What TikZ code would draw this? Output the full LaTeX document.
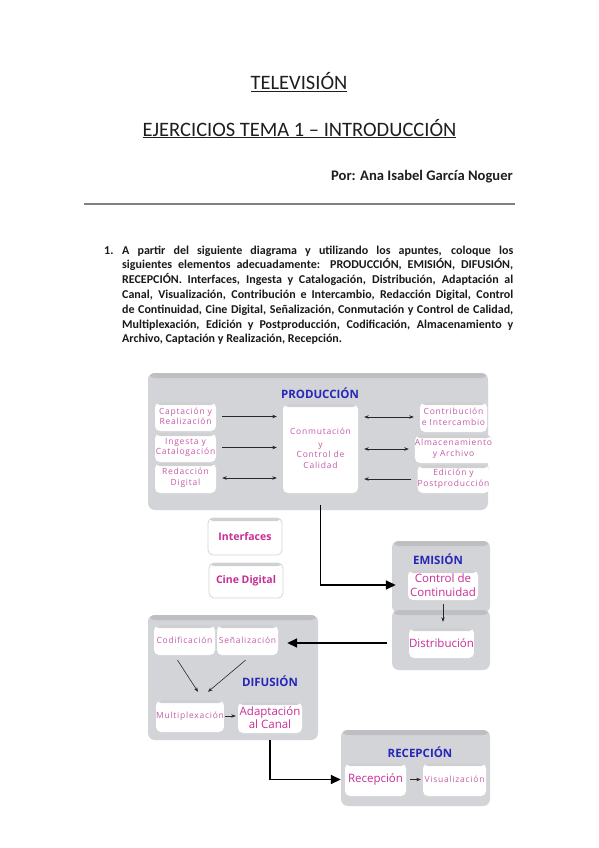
\documentclass[tikz,border=0pt]{standalone}
\usepackage{fontspec}
\setmainfont{Carlito}
\newfontfamily\dia{Open Sans}
\newfontfamily\diasmall[LetterSpace=9]{Open Sans}
\usetikzlibrary{arrows.meta}
\definecolor{panelgray}{RGB}{211,212,215}
\definecolor{paneltop}{RGB}{190,191,195}
\definecolor{wtop}{RGB}{208,208,211}
\definecolor{mag}{RGB}{200,45,150}
\definecolor{lmag}{RGB}{196,90,168}
\definecolor{tblue}{RGB}{38,38,185}
\definecolor{rulegray}{RGB}{128,128,128}
\tikzset{
  panel/.style={rounded corners=7pt, fill=panelgray, inner sep=0pt,
    path picture={\fill[paneltop] (path picture bounding box.north west) rectangle ([yshift=-5pt]path picture bounding box.north east);}},
  wbox/.style={rounded corners=5pt, fill=white, inner sep=0pt, align=center,
    path picture={\fill[wtop] (path picture bounding box.north west) rectangle ([yshift=-3pt]path picture bounding box.north east);}},
  obox/.style={wbox, draw={rgb,255:red,215;green,215;blue,218}, line width=0.8pt},
  ttl/.style={font=\dia\bfseries\fontsize{11.5}{13}\selectfont, text=tblue, inner sep=0pt},
  sml/.style={font=\diasmall\fontsize{8.5}{10.5}\selectfont, text=lmag},
  big/.style={font=\dia\fontsize{11.5}{13.5}\selectfont, text=mag},
  bold/.style={font=\dia\bfseries\fontsize{10.5}{12}\selectfont, text=mag},
  arr/.style={draw={rgb,255:red,40;green,40;blue,40}, line width=0.6pt, -{Stealth[length=4.5pt,width=3.5pt]}, shorten <=6pt, shorten >=6pt},
  darr/.style={arr, {Stealth[length=4.5pt,width=3.5pt]}-{Stealth[length=4.5pt,width=3.5pt]}},
  bigarr/.style={draw=black, line width=1.6pt, -{Triangle[length=10pt,width=9pt]}},
  head/.style={font=\fontsize{20.5}{24}\selectfont, text={rgb,255:red,30;green,30;blue,30}, inner sep=0pt},
  para/.style={font=\bfseries\fontsize{12}{14.6}\selectfont, text={rgb,255:red,25;green,25;blue,25}, inner sep=0pt, anchor=base west}
}
\begin{document}
\begin{tikzpicture}[x=1pt,y=-1pt]
\useasboundingbox[fill=white] (0,0) rectangle (599,848);
% header
\node[head, anchor=base] (title) at (299,90) {\underline{TELEVISIÓN}};
\node[head, anchor=base] (sub) at (299.5,136) {\underline{EJERCICIOS TEMA 1 – INTRODUCCIÓN}};
\node[head, font=\bfseries\fontsize{14.6}{16}\selectfont, anchor=base east] (author) at (513,180) {Por: Ana Isabel García Noguer};
\coordinate (rl) at (84,204);
\coordinate (rr) at (515,204);
\draw[rulegray, line width=1.5pt] (rl) -- (rr);
% paragraph
\node[para] (num) at (104,254) {1.};
\node[para] (l1) at (122,254) {\makebox[391pt][s]{A partir del siguiente diagrama y utilizando los apuntes, coloque los}};
\node[para] (l2) at (122,268.8) {\makebox[391pt][s]{siguientes elementos adecuadamente: PRODUCCIÓN, EMISIÓN, DIFUSIÓN,}};
\node[para] (l3) at (122,283.6) {\makebox[391pt][s]{RECEPCIÓN. Interfaces, Ingesta y Catalogación, Distribución, Adaptación al}};
\node[para] (l4) at (122,298.4) {\makebox[391pt][s]{Canal, Visualización, Contribución e Intercambio, Redacción Digital, Control}};
\node[para] (l5) at (122,313.2) {\makebox[391pt][s]{de Continuidad, Cine Digital, Señalización, Conmutación y Control de Calidad,}};
\node[para] (l6) at (122,328) {\makebox[391pt][s]{Multiplexación, Edición y Postproducción, Codificación, Almacenamiento y}};
\node[para] (l7) at (122,342.8) {Archivo, Captación y Realización, Recepción.};
% PRODUCCION
\node[panel, minimum width=340pt, minimum height=137pt] (prod) at (318,441.5) {};
\node[ttl] (tprod) at (320,393) {PRODUCCIÓN};
\node[wbox, sml, minimum width=61pt, minimum height=29pt] (capt) at (185.5,416.5) {Captación y\\Realización};
\node[wbox, sml, minimum width=61pt, minimum height=29pt] (ing) at (185.5,447.5) {Ingesta y\\Catalogación};
\node[wbox, sml, minimum width=61pt, minimum height=30pt] (red) at (185.5,478) {Redacción\\Digital};
\node[wbox, sml, minimum width=75pt, minimum height=89pt] (conm) at (320.5,448.5) {Conmutación\\[2pt]y\\Control de\\Calidad};
\node[wbox, sml, minimum width=67pt, minimum height=30pt] (contr) at (453.5,417) {Contribución\\e Intercambio};
\node[wbox, sml, minimum width=67pt, minimum height=28pt] (alm) at (453.5,449) {Almacenamiento\\y Archivo};
\node[wbox, sml, minimum width=67pt, minimum height=28pt] (edic) at (453.5,479) {Edición y\\Postproducción};
\draw[arr] (capt.east) -- (capt.east -| conm.west);
\draw[arr] (ing.east) -- (ing.east -| conm.west);
\draw[darr] (red.east) -- (red.east -| conm.west);
\draw[darr] (conm.east |- contr.west) -- (contr.west);
\draw[darr] (conm.east |- alm.west) -- (alm.west);
\draw[arr] (edic.west) -- (edic.west -| conm.east);
% loose boxes
\node[obox, bold, minimum width=74pt, minimum height=37pt] (intf) at (245,536.5) {Interfaces};
\node[obox, bold, minimum width=74pt, minimum height=35pt] (cine) at (246,580.5) {Cine Digital};
% EMISION
\node[panel, minimum width=98pt, minimum height=72pt] (emis) at (441,577) {};
\node[panel, minimum width=98pt, minimum height=60pt] (emis2) at (441,640) {};
\node[ttl] (temis) at (438,559) {EMISIÓN};
\node[wbox, big, minimum width=70pt, minimum height=30pt] (ctrl) at (443,585) {Control de\\Continuidad};
\node[wbox, big, minimum width=64pt, minimum height=30pt] (dist) at (441.5,643) {Distribución};
\draw[arr, shorten <=4pt] (ctrl.south) -- (ctrl.south |- dist.north);
\draw[bigarr, shorten <=12pt, shorten >=-4pt] (conm.south) |- (ctrl.west -| emis.west);
% DIFUSION
\node[panel, minimum width=170pt, minimum height=125pt] (difu) at (233,677.5) {};
\node[wbox, sml, minimum width=61pt, minimum height=30pt] (codif) at (184.5,640) {Codificación};
\node[wbox, sml, minimum width=61pt, minimum height=30pt] (senal) at (247.5,640) {Señalización};
\node[ttl] (tdifu) at (270,681) {DIFUSIÓN};
\node[wbox, sml, minimum width=64pt, minimum height=32pt] (multi) at (190,716) {Multiplexación};
\node[wbox, big, minimum width=64pt, minimum height=31pt] (adapt) at (270,717.5) {Adaptación\\al Canal};
\draw[bigarr, shorten <=5pt, shorten >=9pt] (dist.west -| emis2.west) -- (dist.west -| senal.east);
\draw[arr, shorten <=0pt, shorten >=0pt] ([xshift=-7pt,yshift=-5pt]codif.south) -- ([xshift=8pt,yshift=8pt]multi.north);
\draw[arr, shorten <=0pt, shorten >=0pt] ([xshift=-2pt,yshift=-5pt]senal.south) -- ([xshift=18pt,yshift=8pt]multi.north);
\draw[arr, shorten <=1pt, shorten >=2pt] (multi.east) -- (multi.east -| adapt.west);
% RECEPCION
\node[panel, minimum width=149pt, minimum height=76pt] (recp) at (415.5,768) {};
\node[ttl] (trec) at (420,752) {RECEPCIÓN};
\node[wbox, big, minimum width=61pt, minimum height=33pt] (recep) at (375.5,779.5) {Recepción};
\node[wbox, sml, minimum width=63pt, minimum height=33pt] (visual) at (454.5,779.5) {Visualización};
\draw[arr, shorten <=4pt, shorten >=2pt] (recep.east) -- (recep.east -| visual.west);
\draw[bigarr, shorten <=7pt] (adapt.south) |- (recep.west -| recp.west);
\end{tikzpicture}
\end{document}
